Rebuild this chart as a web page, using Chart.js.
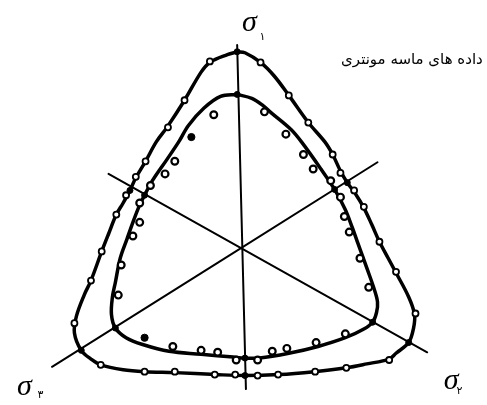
<!DOCTYPE html>
<html>
<head>
<meta charset="utf-8">
<script src="https://cdn.jsdelivr.net/npm/chart.js@4/dist/chart.umd.min.js"></script>
<style>
  html, body { margin: 0; padding: 0; background: #fff; }
  #wrap { width: 487px; height: 405px; }
</style>
</head>
<body>
<div id="wrap"><canvas id="c" width="487" height="405"></canvas></div>
<script>
// Deviatoric (pi) plane: coordinates are [horizontal, vertical] about the hydrostatic axis.

// Principal stress axes, each drawn as a segment through the origin
const axisSigma1 = [[-5, 210], [4, -145]];
const axisDiagA  = [[-137, 77], [190, -107]];
const axisDiagB  = [[139, 89], [-195, -122]];

// Outer failure surface (closed)
const outerSurface = [
  [-5,203],[3,202],[19,192],[33,178],[48,158],[68,130],[85,110],[93,97],[101,80],[108,68],
  [116,57],[125,42],[133,25],[141,7],[150,-10],[158,-25],[171,-50],[177,-68],[176,-82],[171,-97],
  [158,-108],[151,-114],[128,-119],[107,-123],[74,-127],[38,-130],[3,-131],[-27,-130],[-69,-128],[-100,-127],
  [-122,-125],[-145,-120],[-155,-114],[-165,-105],[-172,-87],[-170,-70],[-162,-48],[-155,-33],[-144,-3],[-137,15],
  [-129,35],[-122,47],[-115,60],[-109,73],[-99,90],[-88,110],[-77,125],[-59,153],[-42,182],[-33,192],
  [-15,200],[-5,203]
];

// Inner failure surface (closed)
const innerSurface = [
  [-5,159],[10,155],[21,148],[30,140],[50,123],[61,110],[81,82],[95,61],[106,40],[113,22],
  [118,8],[128,-20],[135,-40],[139,-55],[138,-66],[134,-76],[125,-83],[106,-92],[78,-101],[48,-108],
  [18,-113],[3,-113],[-9,-112],[-42,-109],[-75,-106],[-102,-99],[-119,-92],[-130,-82],[-134,-68],[-133,-50],
  [-130,-35],[-125,-10],[-118,10],[-112,27],[-105,45],[-100,55],[-92,70],[-77,92],[-65,110],[-55,127],
  [-39,145],[-22,157],[-5,159]
];

// Test results on the outer surface
const outerTests = [
  [-33,193],[19,192],[-59,153],[48,158],[-76,125],[68,130],[-99,90],[-109,74],[-119,55],[-129,35],
  [-144,-3],[-155,-33],[-172,-77],[-145,-120],[-100,-127],[-69,-127],[-28,-130],[-7,-130],[16,-131],[37,-130],
  [75,-127],[107,-123],[151,-115],[178,-67],[158,-24],[141,7],[125,43],[115,60],[101,78],[93,97]
];

// Test results on the inner surface
const innerTests = [
  [-29,138],[-69,90],[-79,77],[-94,65],[-105,47],[-105,27],[-112,13],[-124,-17],[-127,-48],
  [-71,-101],[-42,-105],[-25,-107],[-6,-115],[16,-115],[31,-106],[46,-103],[76,-97],[106,-88],
  [130,-40],[121,-10],[110,17],[105,33],[101,53],[91,70],[73,82],[63,97],[45,118],[23,141]
];
const innerTestsSolid = [[-52,115],[-100,-92]];

// Points where the surfaces meet the stress axes
const axisCrossings = [
  [-5,203],[-5,159],[3,-131],[3,-113],
  [-115,60],[-100,55],[108,68],[95,61],
  [-165,-105],[-130,-82],[171,-97],[134,-76]
];

const pts = a => a.map(p => ({ x: p[0], y: p[1] }));

const lineSet = (data, width, order) => ({
  data: pts(data), showLine: true, fill: false,
  borderColor: '#000', borderWidth: width, pointRadius: 0,
  tension: 0.35, order: order, borderJoinStyle: 'round', borderCapStyle: 'round'
});

const markSet = (data, r, bw, bg, order) => ({
  data: pts(data), showLine: false,
  pointRadius: r, pointBorderWidth: bw, pointBackgroundColor: bg,
  pointBorderColor: '#000', pointStyle: 'circle', order: order
});

// Axis captions and the series caption
const captions = [
  { text: 'σ', at: [0, 224], font: 'italic 30px "Liberation Serif"' },
  { text: '۱', at: [18, 215], font: '11px "DejaVu Sans"' },
  { text: 'σ', at: [-231, -151], font: 'italic 30px "Liberation Serif"' },
  { text: '۳', at: [-210, -154], font: '11px "DejaVu Sans"' },
  { text: 'σ', at: [207, -145], font: 'italic 30px "Liberation Serif"' },
  { text: '۲', at: [220, -150], font: '11px "DejaVu Sans"' }
];
const seriesCaption = { text: 'داده های ماسه مونتری', at: [247, 194], font: '15px "DejaVu Sans"' };

const captionPlugin = {
  id: 'captions',
  afterDatasetsDraw(chart) {
    const { ctx, scales } = chart;
    ctx.save();
    ctx.fillStyle = '#000';
    ctx.textBaseline = 'alphabetic';
    ctx.textAlign = 'left';
    captions.forEach(c => {
      ctx.font = c.font;
      ctx.fillText(c.text, scales.x.getPixelForValue(c.at[0]), scales.y.getPixelForValue(c.at[1]));
    });
    ctx.direction = 'rtl';
    ctx.textAlign = 'right';
    ctx.textBaseline = 'middle';
    ctx.font = seriesCaption.font;
    ctx.fillText(seriesCaption.text,
      scales.x.getPixelForValue(seriesCaption.at[0]),
      scales.y.getPixelForValue(seriesCaption.at[1]));
    ctx.restore();
  }
};

new Chart(document.getElementById('c'), {
  type: 'scatter',
  data: {
    datasets: [
      lineSet(axisSigma1, 2, 6),
      lineSet(axisDiagA, 2, 6),
      lineSet(axisDiagB, 2, 6),
      lineSet(outerSurface, 3.5, 5),
      lineSet(innerSurface, 3.5, 5),
      markSet(axisCrossings, 3, 1, '#000', 3),
      markSet(outerTests, 3, 1.8, '#fff', 2),
      markSet(innerTests, 3.4, 2.2, '#fff', 2),
      markSet(innerTestsSolid, 3.6, 1, '#000', 1)
    ]
  },
  options: {
    responsive: false,
    animation: false,
    devicePixelRatio: 1,
    layout: { padding: 0 },
    plugins: { legend: { display: false }, tooltip: { enabled: false } },
    elements: { line: { tension: 0.35 } },
    scales: {
      x: { type: 'linear', min: -242, max: 245, display: false },
      y: { type: 'linear', min: -155, max: 250, display: false }
    }
  },
  plugins: [captionPlugin]
});
</script>
</body>
</html>
